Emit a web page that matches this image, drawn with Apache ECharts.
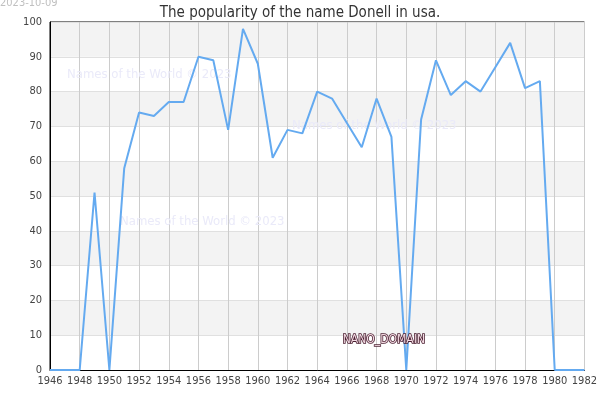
<!DOCTYPE html>
<html>
<head>
<meta charset="utf-8">
<script src="https://cdn.jsdelivr.net/npm/echarts@6/dist/echarts.min.js"></script>
<style>
  html, body { margin: 0; padding: 0; background: #fff; }
  #chart { width: 600px; height: 400px; }
</style>
</head>
<body>
<div id="chart"></div>
<script>
const years = [1946, 1947, 1948, 1949, 1950, 1951, 1952, 1953, 1954, 1955, 1956, 1957,
  1958, 1959, 1960, 1961, 1962, 1963, 1964, 1965, 1966, 1967, 1968, 1969, 1970, 1971,
  1972, 1973, 1974, 1975, 1976, 1977, 1978, 1979, 1980, 1981, 1982];
const popularity = [0, 0, 0, 51, 0, 58, 74, 73, 77, 77, 90, 89,
  69, 98, 88, 61, 69, 68, 80, 78, 71, 64, 78, 67, 0, 72,
  89, 79, 83, 80, 87, 94, 81, 83, 0, 0, 0];

const titleText = 'The popularity of the name Donell in usa.';
const dateText = '2023-10-09';
const watermark = 'Names of the World \u00a9 2023';

const font = 'DejaVu Sans Condensed';
const chart = echarts.init(document.getElementById('chart'));

const faint = { fill: '#eaeaf9', fontSize: 13, fontFamily: font };

chart.setOption({
  animation: false,
  title: {
    text: titleText,
    left: 'center',
    top: 1,
    textStyle: { fontFamily: font, fontSize: 15, fontWeight: 'normal', color: '#333' },
  },
  graphic: [
    { type: 'text', left: 0, top: -2, z: 10, style: { text: dateText, fill: '#c0c0c0', fontSize: 11, fontFamily: font } },
    { type: 'text', left: 67, top: 68, z: 1, style: { ...faint, text: watermark } },
    { type: 'text', left: 292, top: 119, z: 1, style: { ...faint, text: watermark } },
    { type: 'text', left: 120, top: 215, z: 1, style: { ...faint, text: watermark } },
    {
      type: 'text', left: 342, top: 333, z: 10,
      style: {
        text: 'NANO_DOMAIN', fill: '#f2d9e2', stroke: '#4a1f30', lineWidth: 1.6,
        fontSize: 12, fontFamily: font,
      },
    },
  ],
  grid: {
    left: 50, right: 14, top: 22, bottom: 30,
    show: true, borderColor: '#000', borderWidth: 1, backgroundColor: 'transparent',
  },
  xAxis: {
    type: 'value',
    min: 1946,
    max: 1982,
    interval: 2,
    axisLine: { lineStyle: { color: '#000', width: 1 } },
    axisTick: { show: false },
    axisLabel: {
      color: '#444', fontSize: 11, fontFamily: font, margin: 6,
      formatter: (v) => String(v),
    },
    splitLine: { show: true, lineStyle: { color: '#cccccc', width: 1 } },
  },
  yAxis: {
    type: 'value',
    min: 0,
    max: 100,
    interval: 10,
    axisLine: { show: true, lineStyle: { color: '#000', width: 1 } },
    axisTick: { show: false },
    axisLabel: { color: '#444', fontSize: 11, fontFamily: font, margin: 8 },
    splitLine: { show: true, lineStyle: { color: '#e0e0e0', width: 1 } },
    splitArea: { show: true, areaStyle: { color: ['#ffffff', '#f3f3f3'] } },
  },
  series: [
    {
      type: 'line',
      data: years.map((y, i) => [y, popularity[i]]),
      symbol: 'none',
      lineStyle: { color: '#64aaf0', width: 2 },
      z: 5,
    },
  ],
});
</script>
</body>
</html>
